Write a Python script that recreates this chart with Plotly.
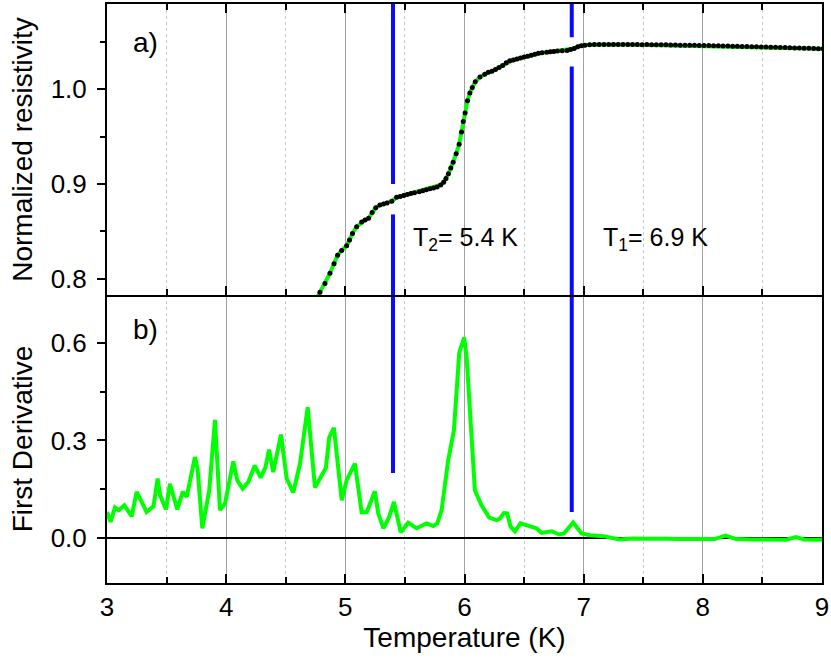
import plotly.graph_objects as go

# ---------------- data ----------------
# Panel a) normalized resistivity vs temperature
t_res = [4.745, 4.787, 4.829, 4.871, 4.905, 4.935, 4.969, 5.011, 5.035, 5.060,
         5.095, 5.137, 5.165, 5.195, 5.225, 5.255, 5.29, 5.32, 5.35, 5.39,
         5.43, 5.46, 5.49, 5.52, 5.55, 5.58, 5.62, 5.65, 5.68, 5.71,
         5.74, 5.77, 5.80, 5.825, 5.845, 5.865, 5.885, 5.905, 5.93, 5.955,
         5.975, 5.99, 6.005, 6.025, 6.045, 6.065, 6.09, 6.13, 6.17, 6.20,
         6.23, 6.26, 6.29, 6.32, 6.35, 6.38, 6.41, 6.44, 6.47, 6.50,
         6.53, 6.56, 6.59, 6.62, 6.65, 6.69, 6.72, 6.75, 6.78, 6.82,
         6.86, 6.89, 6.92, 6.95, 6.98, 7.01, 7.05,
         7.09, 7.13, 7.17, 7.21, 7.25, 7.29, 7.33, 7.37, 7.41, 7.45,
         7.49, 7.53, 7.57, 7.61, 7.65, 7.69, 7.73, 7.77, 7.81, 7.85,
         7.89, 7.93, 7.97, 8.01, 8.05, 8.09, 8.13, 8.17, 8.21, 8.25,
         8.29, 8.33, 8.37, 8.41, 8.45, 8.49, 8.53, 8.57, 8.61, 8.65,
         8.69, 8.73, 8.77, 8.81, 8.85, 8.89, 8.93, 8.97, 9.01]
r_res = [0.776, 0.786, 0.795, 0.806, 0.816, 0.825, 0.830, 0.835, 0.841, 0.848,
         0.855, 0.860, 0.862, 0.864, 0.870, 0.875, 0.878, 0.879, 0.880, 0.882,
         0.886, 0.887, 0.888, 0.889, 0.890, 0.891, 0.892, 0.893, 0.894, 0.895,
         0.896, 0.897, 0.899, 0.902, 0.906, 0.911, 0.917, 0.923, 0.932, 0.942,
         0.955, 0.966, 0.975, 0.988, 0.996, 1.002, 1.008, 1.013, 1.016, 1.018,
         1.019, 1.021, 1.023, 1.025, 1.028, 1.030, 1.031, 1.032, 1.033, 1.034,
         1.035, 1.036, 1.037, 1.038, 1.0385, 1.039, 1.0395, 1.040, 1.0403, 1.0407,
         1.041, 1.042, 1.043, 1.045, 1.046, 1.0465, 1.047,
         1.0472, 1.0473, 1.0472, 1.0474, 1.0473, 1.0474, 1.0473, 1.0472, 1.0473, 1.0472,
         1.0471, 1.0472, 1.0470, 1.0470, 1.0469, 1.0469, 1.0468, 1.0467, 1.0466, 1.0466,
         1.0465, 1.0464, 1.0463, 1.0462, 1.0461, 1.0460, 1.0459, 1.0457, 1.0456, 1.0455,
         1.0454, 1.0452, 1.0451, 1.0450, 1.0448, 1.0447, 1.0446, 1.0444, 1.0443, 1.0441,
         1.0440, 1.0438, 1.0437, 1.0435, 1.0434, 1.0432, 1.0431, 1.0429, 1.0428]

# Panel b) first derivative
t_der = [3.00, 3.03, 3.067, 3.10, 3.145, 3.207, 3.249, 3.333, 3.39, 3.425,
         3.445, 3.495, 3.528, 3.59, 3.635, 3.669, 3.738, 3.76, 3.80, 3.858,
         3.906, 3.948, 3.99, 4.06, 4.093, 4.138, 4.185, 4.24, 4.29, 4.33,
         4.36, 4.395, 4.46, 4.508, 4.563, 4.62, 4.684, 4.745, 4.837, 4.865,
         4.904, 4.97, 5.011, 5.08, 5.137, 5.18, 5.248, 5.276, 5.32, 5.368,
         5.408, 5.465, 5.528, 5.598, 5.682, 5.738, 5.771, 5.808, 5.863, 5.911,
         5.956, 5.997, 6.018, 6.087, 6.143, 6.207, 6.269, 6.297, 6.33, 6.358,
         6.387, 6.423, 6.47, 6.535, 6.605, 6.647, 6.731, 6.795, 6.834, 6.912,
         6.982, 7.052, 7.164, 7.30, 7.415, 7.52, 7.61, 7.70, 7.80, 7.90,
         8.00, 8.10, 8.19, 8.28, 8.40, 8.50, 8.60, 8.70, 8.78, 8.85,
         8.95, 9.00]
d_der = [0.080, 0.050, 0.094, 0.086, 0.101, 0.067, 0.142, 0.080, 0.098, 0.183,
         0.132, 0.088, 0.167, 0.088, 0.142, 0.127, 0.249, 0.213, 0.030, 0.147,
         0.363, 0.086, 0.106, 0.236, 0.178, 0.152, 0.172, 0.223, 0.186, 0.218,
         0.272, 0.203, 0.318, 0.183, 0.140, 0.229, 0.402, 0.155, 0.216, 0.310,
         0.339, 0.116, 0.178, 0.229, 0.079, 0.080, 0.144, 0.076, 0.030, 0.065,
         0.111, 0.018, 0.047, 0.030, 0.045, 0.037, 0.045, 0.086, 0.239, 0.331,
         0.570, 0.616, 0.555, 0.147, 0.101, 0.063, 0.055, 0.060, 0.077, 0.076,
         0.035, 0.021, 0.045, 0.038, 0.030, 0.016, 0.021, 0.011, 0.014, 0.048,
         0.014, 0.009, 0.006, -0.004, -0.001, -0.002, -0.001, -0.002, -0.003, -0.004,
         -0.002, -0.003, 0.008, -0.003, -0.004, -0.005, -0.004, -0.005, 0.003, -0.004,
         -0.005, -0.004]

# Transition temperatures
tc_values = [5.4, 6.9]
tc_labels = ["T<sub>2</sub>= 5.4 K", "T<sub>1</sub>= 6.9 K"]
x_ticks = [3, 4, 5, 6, 7, 8, 9]
res_ticks = [0.8, 0.9, 1.0]
der_ticks = [0.0, 0.3, 0.6]

# -------------- styling ----------------
FONT = "Liberation Sans, Arial, sans-serif"
GREEN = "#00ff00"
BLUE = "#0a0aff"
# where each marker line is interrupted (top gap) and ends in panel b)
gap_top = [0.900, 1.055]
gap_bot = [0.868, 1.024]
der_stop = [0.20, 0.08]

fig = go.Figure()

fig.add_trace(go.Scatter(
    x=t_res, y=r_res, mode="lines+markers",
    line=dict(color=GREEN, width=4),
    marker=dict(color="black", size=5),
    xaxis="x2", yaxis="y2", showlegend=False, hoverinfo="skip"))

fig.add_trace(go.Scatter(
    x=t_der, y=d_der, mode="lines",
    line=dict(color=GREEN, width=4),
    xaxis="x", yaxis="y", showlegend=False, hoverinfo="skip"))

for tc, gt, gb, ds in zip(tc_values, gap_top, gap_bot, der_stop):
    line = dict(color=BLUE, width=4)
    fig.add_trace(go.Scatter(x=[tc, tc], y=[gt, 1.2], mode="lines", line=line,
                             xaxis="x2", yaxis="y2", showlegend=False, hoverinfo="skip"))
    fig.add_trace(go.Scatter(x=[tc, tc], y=[gb, 0.7], mode="lines", line=line,
                             xaxis="x2", yaxis="y2", showlegend=False, hoverinfo="skip"))
    fig.add_trace(go.Scatter(x=[tc, tc], y=[ds, 0.9], mode="lines", line=line,
                             xaxis="x", yaxis="y", showlegend=False, hoverinfo="skip"))

split = 289 / 581

xcommon = dict(
    range=[3, 9], tickvals=x_ticks, showgrid=True, gridcolor="#a0a0a0", gridwidth=1,
    showline=True, linecolor="black", linewidth=2,
    ticks="inside", ticklen=9, tickwidth=2, tickcolor="black",
    minor=dict(dtick=0.5, tick0=3, ticks="inside", ticklen=6, tickwidth=2,
               tickcolor="black", showgrid=True, gridcolor="#c8c8c8",
               griddash="dot", gridwidth=1),
    zeroline=False,
)

fig.update_layout(
    width=831, height=659,
    margin=dict(l=107, r=9, t=2, b=76),
    paper_bgcolor="white", plot_bgcolor="white",
    font=dict(family=FONT, color="black", size=26),
    xaxis=dict(**xcommon, anchor="y", mirror=False,
               tickfont=dict(size=26), ticklabelstandoff=0,
               title=dict(text="Temperature (K)", font=dict(size=28), standoff=0)),
    xaxis2=dict(**xcommon, anchor="y2", matches="x", mirror="ticks",
                showticklabels=False),
    yaxis2=dict(domain=[split, 1], range=[0.783, 1.09], anchor="x2",
                tickvals=res_ticks, tickformat=".1f",
                showgrid=False, zeroline=False,
                showline=True, linecolor="black", linewidth=2, mirror=True,
                ticks="outside", ticklen=8, tickwidth=2, tickcolor="black",
                minor=dict(dtick=0.05, tick0=0.8, ticks="outside", ticklen=5,
                           tickwidth=2, tickcolor="black", showgrid=False),
                tickfont=dict(size=26), ticklabelstandoff=5,
                title=dict(text="Normalized resistivity", font=dict(size=28), standoff=10)),
    yaxis=dict(domain=[0, split], range=[-0.138, 0.747], anchor="x",
               tickvals=der_ticks, tickformat=".1f",
               showgrid=False, zeroline=True, zerolinecolor="black", zerolinewidth=2,
               showline=True, linecolor="black", linewidth=2, mirror=True,
               ticks="outside", ticklen=8, tickwidth=2, tickcolor="black",
               minor=dict(dtick=0.15, tick0=0, ticks="outside", ticklen=5,
                          tickwidth=2, tickcolor="black", showgrid=False),
               tickfont=dict(size=26), ticklabelstandoff=5,
               title=dict(text="First Derivative", font=dict(size=28), standoff=10)),
)

fig.add_annotation(x=3.327, y=1.049, xref="x2", yref="y2", text="a)",
                   showarrow=False, font=dict(size=28))
fig.add_annotation(x=3.327, y=0.640, xref="x", yref="y", text="b)",
                   showarrow=False, font=dict(size=28))
label_x = [5.555, 7.143]
for lx, txt in zip(label_x, tc_labels):
    fig.add_annotation(x=lx, y=0.842, xref="x2", yref="y2", text=txt,
                       xanchor="left", showarrow=False, font=dict(size=25))

fig.write_html("out.html")
